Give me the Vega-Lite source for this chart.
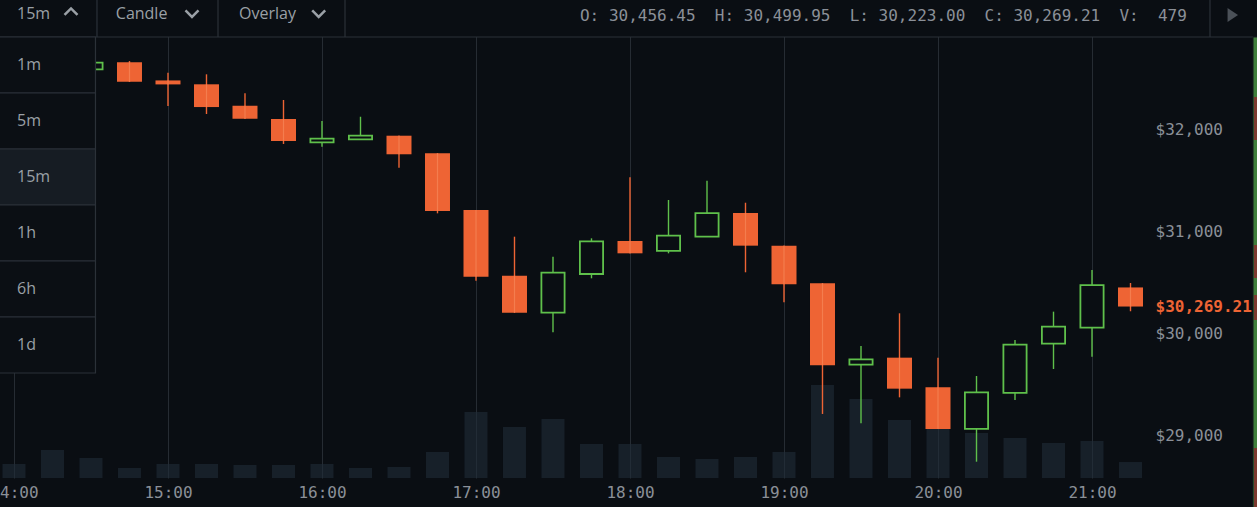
{
  "$schema": "https://vega.github.io/schema/vega-lite/v6.json",
  "width": 1148,
  "height": 478,
  "autosize": {"type": "none"},
  "padding": {"left": 0, "top": 0, "right": 109, "bottom": 29},
  "background": "#0a0e13",
  "config": {
    "view": {"stroke": null},
    "text": {"font": "Open Sans", "fontSize": 16, "color": "#9aa0a6", "baseline": "middle"}
  },
  "datasets": {
    "candles": [
      {"t": "2021-06-22T14:00:00Z", "open": 32710, "high": 32790, "low": 32620, "close": 32680, "volume": 420},
      {"t": "2021-06-22T14:15:00Z", "open": 32680, "high": 32720, "low": 32560, "close": 32600, "volume": 840},
      {"t": "2021-06-22T14:30:00Z", "open": 32595, "high": 32665, "low": 32590, "close": 32660, "volume": 600},
      {"t": "2021-06-22T14:45:00Z", "open": 32664, "high": 32676, "low": 32471, "close": 32474, "volume": 300},
      {"t": "2021-06-22T15:00:00Z", "open": 32486, "high": 32562, "low": 32235, "close": 32447, "volume": 420},
      {"t": "2021-06-22T15:15:00Z", "open": 32448, "high": 32546, "low": 32157, "close": 32225, "volume": 420},
      {"t": "2021-06-22T15:30:00Z", "open": 32238, "high": 32360, "low": 32111, "close": 32111, "volume": 390},
      {"t": "2021-06-22T15:45:00Z", "open": 32108, "high": 32294, "low": 31863, "close": 31892, "volume": 390},
      {"t": "2021-06-22T16:00:00Z", "open": 31879, "high": 32088, "low": 31836, "close": 31915, "volume": 420},
      {"t": "2021-06-22T16:15:00Z", "open": 31909, "high": 32130, "low": 31909, "close": 31944, "volume": 300},
      {"t": "2021-06-22T16:30:00Z", "open": 31944, "high": 31944, "low": 31630, "close": 31762, "volume": 330},
      {"t": "2021-06-22T16:45:00Z", "open": 31771, "high": 31771, "low": 31183, "close": 31206, "volume": 780},
      {"t": "2021-06-22T17:00:00Z", "open": 31216, "high": 31216, "low": 30523, "close": 30562, "volume": 1980},
      {"t": "2021-06-22T17:15:00Z", "open": 30572, "high": 30954, "low": 30209, "close": 30209, "volume": 1530},
      {"t": "2021-06-22T17:30:00Z", "open": 30209, "high": 30758, "low": 30017, "close": 30601, "volume": 1770},
      {"t": "2021-06-22T17:45:00Z", "open": 30588, "high": 30938, "low": 30546, "close": 30909, "volume": 1020},
      {"t": "2021-06-22T18:00:00Z", "open": 30912, "high": 31536, "low": 30791, "close": 30791, "volume": 1020},
      {"t": "2021-06-22T18:15:00Z", "open": 30814, "high": 31314, "low": 30791, "close": 30964, "volume": 630},
      {"t": "2021-06-22T18:30:00Z", "open": 30954, "high": 31503, "low": 30954, "close": 31186, "volume": 570},
      {"t": "2021-06-22T18:45:00Z", "open": 31186, "high": 31287, "low": 30605, "close": 30866, "volume": 630},
      {"t": "2021-06-22T19:00:00Z", "open": 30866, "high": 30866, "low": 30311, "close": 30487, "volume": 780},
      {"t": "2021-06-22T19:15:00Z", "open": 30497, "high": 30497, "low": 29216, "close": 29693, "volume": 2790},
      {"t": "2021-06-22T19:30:00Z", "open": 29699, "high": 29882, "low": 29124, "close": 29752, "volume": 2370},
      {"t": "2021-06-22T19:45:00Z", "open": 29768, "high": 30203, "low": 29379, "close": 29464, "volume": 1740},
      {"t": "2021-06-22T20:00:00Z", "open": 29477, "high": 29768, "low": 29069, "close": 29069, "volume": 1500},
      {"t": "2021-06-22T20:15:00Z", "open": 29069, "high": 29588, "low": 28748, "close": 29428, "volume": 1350},
      {"t": "2021-06-22T20:30:00Z", "open": 29422, "high": 29941, "low": 29353, "close": 29895, "volume": 1200},
      {"t": "2021-06-22T20:45:00Z", "open": 29905, "high": 30219, "low": 29657, "close": 30072, "volume": 1050},
      {"t": "2021-06-22T21:00:00Z", "open": 30062, "high": 30627, "low": 29777, "close": 30480, "volume": 1110},
      {"t": "2021-06-22T21:15:00Z", "open": 30456.45, "high": 30499.95, "low": 30223.0, "close": 30269.21, "volume": 479}
    ],
    "menu": [
      {"item": "1m"}, {"item": "5m"}, {"item": "15m"}, {"item": "1h"}, {"item": "6h"}, {"item": "1d"}
    ],
    "one": [{"k": 1}]
  },
  "layer": [
    {
      "data": {"name": "candles"},
      "mark": {"type": "bar", "size": 23, "color": "#1f2d39", "opacity": 0.6},
      "encoding": {
        "x": {"field": "t", "type": "temporal", "scale": {"type": "utc", "domain": [1624370073000, 1624396909000], "padding": 0}},
        "y": {"field": "volume", "type": "quantitative", "scale": {"domain": [0, 14340], "nice": false}, "axis": null}
      }
    },
    {
      "layer": [
        {
          "data": {"name": "candles"},
          "mark": {"type": "rule", "strokeWidth": 1.4},
          "encoding": {
            "x": {
              "field": "t",
              "type": "temporal",
              "scale": {"type": "utc", "domain": [1624370073000, 1624396909000], "padding": 0},
              "axis": {
                "title": null,
                "values": [1624370400000, 1624374000000, 1624377600000, 1624381200000, 1624384800000, 1624388400000, 1624392000000, 1624395600000],
                "format": "%H:%M",
                "labelFlush": false,
                "labelOverlap": false,
                "domain": false,
                "ticks": false,
                "labelPadding": 6,
                "gridColor": "#262c33",
                "labelColor": "#8b9098",
                "labelFont": "DejaVu Sans Mono",
                "labelFontSize": 16
              }
            },
            "y": {
              "field": "low",
              "type": "quantitative",
              "scale": {"domain": [28588.2, 33274.5], "nice": false, "zero": false},
              "axis": {
                "title": null,
                "orient": "right",
                "values": [29000, 30000, 30269.21, 31000, 32000],
                "labelExpr": "datum.value == 30269.21 ? '$30,269.21' : format(datum.value, '$,.0f')",
                "labelColor": {"condition": {"test": "datum.value == 30269.21", "value": "#ee6434"}, "value": "#8b9098"},
                "labelFontWeight": {"condition": {"test": "datum.value == 30269.21", "value": "bold"}, "value": "normal"},
                "gridOpacity": {"condition": {"test": "datum.value == 30269.21", "value": 0}, "value": 1},
                "gridColor": "#262c33",
                "domain": false,
                "ticks": false,
                "labelOverlap": false,
                "labelPadding": 7,
                "labelFont": "DejaVu Sans Mono",
                "labelFontSize": 16
              }
            },
            "y2": {"field": "high"},
            "color": {"condition": {"test": "datum.close >= datum.open", "value": "#5fc04b"}, "value": "#ee6434"}
          }
        },
        {
          "data": {"name": "candles"},
          "transform": [{"filter": "datum.close < datum.open"}],
          "mark": {"type": "bar", "size": 25, "color": "#ee6434"},
          "encoding": {
            "x": {"field": "t", "type": "temporal"},
            "y": {"field": "open", "type": "quantitative"},
            "y2": {"field": "close"}
          }
        },
        {
          "data": {"name": "candles"},
          "transform": [{"filter": "datum.close < datum.open"}],
          "mark": {"type": "rule", "strokeWidth": 1.2, "color": "#f47d4e"},
          "encoding": {
            "x": {"field": "t", "type": "temporal"},
            "y": {"field": "open", "type": "quantitative"},
            "y2": {"field": "close"}
          }
        },
        {
          "data": {"name": "candles"},
          "transform": [{"filter": "datum.close >= datum.open"}],
          "mark": {"type": "bar", "size": 23.2, "fill": "#0a0e13", "stroke": "#5fc04b", "strokeWidth": 1.8},
          "encoding": {
            "x": {"field": "t", "type": "temporal"},
            "y": {"field": "open", "type": "quantitative"},
            "y2": {"field": "close"}
          }
        },
        {
          "data": {"name": "one"},
          "mark": {"type": "rect", "fill": "#0a0e13", "clip": false},
          "encoding": {
            "x": {"datum": {"year": 2021, "month": 6, "date": 22, "hours": 13, "minutes": 50, "utc": true}, "type": "temporal"},
            "x2": {"datum": {"year": 2021, "month": 6, "date": 22, "hours": 22, "minutes": 10, "utc": true}},
            "y": {"datum": 32911.8, "type": "quantitative"},
            "y2": {"datum": 33300}
          }
        },
        {
          "data": {"name": "one"},
          "mark": {"type": "rule", "color": "#2b3138", "strokeWidth": 1.2, "clip": false},
          "encoding": {
            "x": {"datum": {"year": 2021, "month": 6, "date": 22, "hours": 13, "minutes": 50, "utc": true}, "type": "temporal"},
            "x2": {"datum": {"year": 2021, "month": 6, "date": 22, "hours": 22, "minutes": 2, "seconds": 44, "utc": true}},
            "y": {"datum": 32911.8, "type": "quantitative"}
          }
        },
        {
          "data": {"name": "one"},
          "mark": {"type": "rule", "color": "#2b3138", "strokeWidth": 1.2, "clip": false},
          "encoding": {
            "x": {"datum": {"year": 2021, "month": 6, "date": 22, "hours": 14, "minutes": 32, "seconds": 20, "utc": true}, "type": "temporal"},
            "y": {"datum": 32911.8, "type": "quantitative"},
            "y2": {"datum": 33300}
          }
        },
        {
          "data": {"name": "one"},
          "mark": {"type": "rule", "color": "#2b3138", "strokeWidth": 1.2, "clip": false},
          "encoding": {
            "x": {"datum": {"year": 2021, "month": 6, "date": 22, "hours": 15, "minutes": 19, "seconds": 29, "utc": true}, "type": "temporal"},
            "y": {"datum": 32911.8, "type": "quantitative"},
            "y2": {"datum": 33300}
          }
        },
        {
          "data": {"name": "one"},
          "mark": {"type": "rule", "color": "#2b3138", "strokeWidth": 1.2, "clip": false},
          "encoding": {
            "x": {"datum": {"year": 2021, "month": 6, "date": 22, "hours": 16, "minutes": 8, "seconds": 58, "utc": true}, "type": "temporal"},
            "y": {"datum": 32911.8, "type": "quantitative"},
            "y2": {"datum": 33300}
          }
        },
        {
          "data": {"name": "one"},
          "mark": {"type": "rule", "color": "#2b3138", "strokeWidth": 1.2, "clip": false},
          "encoding": {
            "x": {"datum": {"year": 2021, "month": 6, "date": 22, "hours": 21, "minutes": 45, "seconds": 58, "utc": true}, "type": "temporal"},
            "y": {"datum": 32911.8, "type": "quantitative"},
            "y2": {"datum": 33300}
          }
        },
        {
          "data": {"name": "one"},
          "mark": {"type": "text", "align": "left", "text": "15m", "clip": false},
          "encoding": {
            "x": {"datum": {"year": 2021, "month": 6, "date": 22, "hours": 14, "minutes": 1, "seconds": 10, "utc": true}, "type": "temporal"},
            "y": {"datum": 33135, "type": "quantitative"}
          }
        },
        {
          "data": {"name": "one"},
          "mark": {"type": "text", "align": "left", "text": "Candle", "clip": false},
          "encoding": {
            "x": {"datum": {"year": 2021, "month": 6, "date": 22, "hours": 14, "minutes": 39, "seconds": 40, "utc": true}, "type": "temporal"},
            "y": {"datum": 33135, "type": "quantitative"}
          }
        },
        {
          "data": {"name": "one"},
          "mark": {"type": "text", "align": "left", "text": "Overlay", "clip": false},
          "encoding": {
            "x": {"datum": {"year": 2021, "month": 6, "date": 22, "hours": 15, "minutes": 27, "seconds": 40, "utc": true}, "type": "temporal"},
            "y": {"datum": 33135, "type": "quantitative"}
          }
        },
        {
          "data": {"name": "one"},
          "mark": {"type": "point", "shape": "M-1,0.5L0,-0.5L1,0.5", "filled": false, "size": 169, "strokeWidth": 2.5, "color": "#9aa0a6", "opacity": 1, "clip": false},
          "encoding": {
            "x": {"datum": {"year": 2021, "month": 6, "date": 22, "hours": 14, "minutes": 22, "seconds": 13, "utc": true}, "type": "temporal"},
            "y": {"datum": 33160, "type": "quantitative"}
          }
        },
        {
          "data": {"name": "one"},
          "mark": {"type": "point", "shape": "M-1,-0.5L0,0.5L1,-0.5", "filled": false, "size": 169, "strokeWidth": 2.5, "color": "#9aa0a6", "opacity": 1, "clip": false},
          "encoding": {
            "x": {"datum": {"year": 2021, "month": 6, "date": 22, "hours": 15, "minutes": 9, "seconds": 21, "utc": true}, "type": "temporal"},
            "y": {"datum": 33140, "type": "quantitative"}
          }
        },
        {
          "data": {"name": "one"},
          "mark": {"type": "point", "shape": "M-1,-0.5L0,0.5L1,-0.5", "filled": false, "size": 169, "strokeWidth": 2.5, "color": "#9aa0a6", "opacity": 1, "clip": false},
          "encoding": {
            "x": {"datum": {"year": 2021, "month": 6, "date": 22, "hours": 15, "minutes": 58, "seconds": 43, "utc": true}, "type": "temporal"},
            "y": {"datum": 33140, "type": "quantitative"}
          }
        },
        {
          "data": {"name": "one"},
          "mark": {"type": "text", "align": "left", "font": "DejaVu Sans Mono", "fontSize": 16, "color": "#8b9098", "text": "O: 30,456.45\u00a0\u00a0H: 30,499.95\u00a0\u00a0L: 30,223.00\u00a0\u00a0C: 30,269.21\u00a0\u00a0V:\u00a0\u00a0479", "clip": false},
          "encoding": {
            "x": {"datum": {"year": 2021, "month": 6, "date": 22, "hours": 17, "minutes": 40, "seconds": 31, "utc": true}, "type": "temporal"},
            "y": {"datum": 33117, "type": "quantitative"}
          }
        },
        {
          "data": {"name": "one"},
          "mark": {"type": "point", "shape": "M-0.5,-1L1,0L-0.5,1Z", "filled": true, "size": 196, "color": "#4b5158", "opacity": 1, "clip": false},
          "encoding": {
            "x": {"datum": {"year": 2021, "month": 6, "date": 22, "hours": 21, "minutes": 54, "seconds": 10, "utc": true}, "type": "temporal"},
            "y": {"datum": 33127, "type": "quantitative"}
          }
        },
        {
          "data": {"name": "one"},
          "mark": {"type": "rect", "fill": "#3f7e3b", "stroke": "#161b20", "strokeWidth": 1, "clip": false},
          "encoding": {
            "x": {"datum": {"year": 2021, "month": 6, "date": 22, "hours": 22, "minutes": 2, "seconds": 44, "utc": true}, "type": "temporal"},
            "x2": {"datum": {"year": 2021, "month": 6, "date": 22, "hours": 22, "minutes": 5, "utc": true}},
            "y": {"datum": 28300, "type": "quantitative"},
            "y2": {"datum": 32911.8}
          }
        },
        {
          "data": {"name": "one"},
          "mark": {"type": "rect", "fill": "#7b3a2f", "clip": false},
          "encoding": {
            "x": {"datum": {"year": 2021, "month": 6, "date": 22, "hours": 22, "minutes": 3, "seconds": 7, "utc": true}, "type": "temporal"},
            "x2": {"datum": {"year": 2021, "month": 6, "date": 22, "hours": 22, "minutes": 5, "utc": true}},
            "y": {"datum": 31902, "type": "quantitative"},
            "y2": {"datum": 32323}
          }
        },
        {
          "data": {"name": "one"},
          "mark": {"type": "rect", "fill": "#7b3a2f", "clip": false},
          "encoding": {
            "x": {"datum": {"year": 2021, "month": 6, "date": 22, "hours": 22, "minutes": 3, "seconds": 7, "utc": true}, "type": "temporal"},
            "x2": {"datum": {"year": 2021, "month": 6, "date": 22, "hours": 22, "minutes": 5, "utc": true}},
            "y": {"datum": 30549, "type": "quantitative"},
            "y2": {"datum": 30872}
          }
        },
        {
          "data": {"name": "one"},
          "mark": {"type": "rect", "fill": "#7b3a2f", "clip": false},
          "encoding": {
            "x": {"datum": {"year": 2021, "month": 6, "date": 22, "hours": 22, "minutes": 3, "seconds": 7, "utc": true}, "type": "temporal"},
            "x2": {"datum": {"year": 2021, "month": 6, "date": 22, "hours": 22, "minutes": 5, "utc": true}},
            "y": {"datum": 30137, "type": "quantitative"},
            "y2": {"datum": 30382}
          }
        },
        {
          "data": {"name": "one"},
          "mark": {"type": "rect", "fill": "#7b3a2f", "clip": false},
          "encoding": {
            "x": {"datum": {"year": 2021, "month": 6, "date": 22, "hours": 22, "minutes": 3, "seconds": 7, "utc": true}, "type": "temporal"},
            "x2": {"datum": {"year": 2021, "month": 6, "date": 22, "hours": 22, "minutes": 5, "utc": true}},
            "y": {"datum": 28300, "type": "quantitative"},
            "y2": {"datum": 28882}
          }
        }
      ]
    },
    {
      "data": {"name": "menu"},
      "encoding": {
        "y": {
          "field": "item",
          "type": "ordinal",
          "sort": null,
          "scale": {"domain": ["1m", "5m", "15m", "1h", "6h", "1d"], "range": [37, 373], "paddingInner": 0, "paddingOuter": 0},
          "axis": null
        }
      },
      "layer": [
        {
          "mark": {"type": "rect", "stroke": "#2b3138", "strokeWidth": 1.2, "clip": false},
          "encoding": {
            "x": {"datum": {"year": 2021, "month": 6, "date": 22, "hours": 13, "minutes": 50, "utc": true}, "type": "temporal"},
            "x2": {"datum": {"year": 2021, "month": 6, "date": 22, "hours": 14, "minutes": 31, "seconds": 45, "utc": true}},
            "fill": {"condition": {"test": "datum.item === '15m'", "value": "#161c23"}, "value": "#0b0f14"}
          }
        },
        {
          "mark": {"type": "text", "align": "left", "clip": false},
          "encoding": {
            "x": {"datum": {"year": 2021, "month": 6, "date": 22, "hours": 14, "minutes": 1, "seconds": 10, "utc": true}, "type": "temporal"},
            "text": {"field": "item", "type": "nominal"}
          }
        }
      ]
    }
  ],
  "resolve": {"scale": {"y": "independent"}}
}
